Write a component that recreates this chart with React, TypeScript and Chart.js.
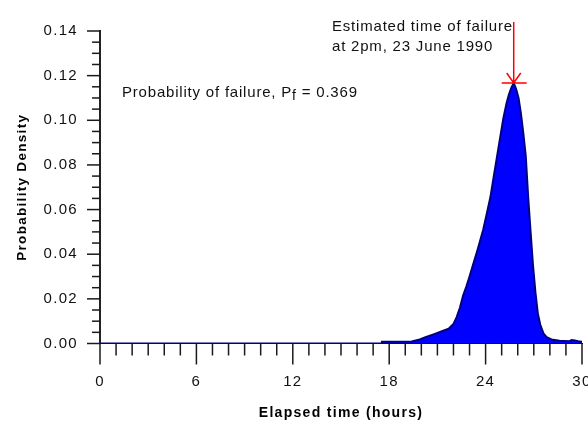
import React, { useEffect, useRef } from 'react';
import { Chart, registerables } from 'chart.js';

Chart.register(...registerables);

// ---- data ----
const hours = [
  0, 17.5, 17.55, 19.4, 19.9, 20.3, 20.8, 21.2, 21.7, 22.0, 22.2, 22.4, 22.6, 22.8,
  23.0, 23.25, 23.5, 23.85, 24.1, 24.3, 24.5, 24.7, 24.9, 25.1, 25.3, 25.45, 25.6,
  25.75, 25.9, 26.05, 26.2, 26.35, 26.5, 26.65, 26.8, 26.95, 27.1, 27.25, 27.4,
  27.6, 27.8, 28.1, 28.6, 29.2, 29.35, 29.55, 29.75, 29.95, 30,
];
const density = [
  0, 0, 0.0008, 0.0009, 0.0018, 0.0029, 0.0042, 0.0053, 0.0066, 0.0088, 0.0118,
  0.016, 0.0215, 0.0255, 0.03, 0.036, 0.042, 0.051, 0.059, 0.0656, 0.0745, 0.0832,
  0.092, 0.1007, 0.1075, 0.1115, 0.1145, 0.1167, 0.114, 0.11, 0.103, 0.094, 0.084,
  0.0656, 0.05, 0.035, 0.023, 0.0135, 0.0085, 0.0045, 0.0028, 0.0018, 0.0012,
  0.001, 0.0016, 0.0014, 0.001, 0.0008, 0,
];
const xMin = 0;
const xMax = 30;
const xMajorStep = 6;
const xMinorStep = 1;
const yMin = 0;
const yMax = 0.14;
const yMajorStep = 0.02;
const yMinorStep = 0.005;
const peakHour = 25.75;
const peakDensity = 0.1167;
const xTitle = 'Elapsed time (hours)';
const yTitle = 'Probability Density';
const noteLines = ['Estimated time of failure', 'at 2pm, 23 June 1990'];
const pfPrefix = 'Probability of failure, P';
const pfSub = 'f';
const pfSuffix = ' = 0.369';

const FONT = "'Liberation Sans', Arial, sans-serif";
const SPACING = '1.3px';

const decorPlugin = {
  id: 'decor',
  beforeUpdate(chart: any) {
    chart.ctx.letterSpacing = SPACING;
  },
  beforeDraw(chart: any) {
    chart.ctx.letterSpacing = SPACING;
  },
  afterDraw(chart: any) {
    const ctx = chart.ctx;
    const xs = chart.scales.x;
    const ys = chart.scales.y;
    const area = chart.chartArea;
    ctx.save();
    // x tick marks
    ctx.strokeStyle = '#1a1a1a';
    ctx.lineWidth = 1.5;
    for (let h = xMin; h <= xMax + 1e-9; h += xMinorStep) {
      const px = xs.getPixelForValue(h);
      const major = Math.abs(h / xMajorStep - Math.round(h / xMajorStep)) < 1e-6;
      ctx.beginPath();
      ctx.moveTo(px, area.bottom);
      ctx.lineTo(px, area.bottom + (major ? 21 : 12));
      ctx.stroke();
    }
    // y tick marks
    for (let i = 0; i <= Math.round((yMax - yMin) / yMinorStep); i++) {
      const v = yMin + i * yMinorStep;
      const py = ys.getPixelForValue(v);
      const major = i % Math.round(yMajorStep / yMinorStep) === 0;
      ctx.beginPath();
      ctx.moveTo(area.left, py);
      ctx.lineTo(area.left - (major ? 13 : 8), py);
      ctx.stroke();
    }
    // annotation: probability of failure
    ctx.fillStyle = '#111';
    ctx.letterSpacing = '0.8px';
    ctx.textBaseline = 'middle';
    ctx.textAlign = 'left';
    ctx.font = `15px ${FONT}`;
    let tx = 122;
    const ty = 93;
    ctx.fillText(pfPrefix, tx, ty);
    tx += ctx.measureText(pfPrefix).width;
    ctx.font = `14px ${FONT}`;
    ctx.fillText(pfSub, tx, ty + 3);
    tx += ctx.measureText(pfSub).width;
    ctx.font = `15px ${FONT}`;
    ctx.fillText(pfSuffix, tx, ty);
    // annotation: estimated time of failure
    ctx.fillText(noteLines[0], 332, 27);
    ctx.fillText(noteLines[1], 332, 47);
    // red arrow to the peak
    const px = xs.getPixelForValue(peakHour);
    const py = ys.getPixelForValue(peakDensity);
    ctx.strokeStyle = '#ff0000';
    ctx.lineWidth = 1.5;
    ctx.beginPath();
    ctx.moveTo(px, 22);
    ctx.lineTo(px, py);
    ctx.moveTo(px - 7, py - 10);
    ctx.lineTo(px, py);
    ctx.lineTo(px + 7, py - 10);
    ctx.moveTo(px - 12, py);
    ctx.lineTo(px + 13, py);
    ctx.stroke();
    ctx.restore();
  },
};

export default function App() {
  const ref = useRef<HTMLCanvasElement | null>(null);
  useEffect(() => {
    if (!ref.current) return;
    const chart = new Chart(ref.current, {
      type: 'line',
      data: {
        datasets: [
          {
            data: hours.map((h, i) => ({ x: h, y: density[i] })),
            borderColor: '#000080',
            backgroundColor: '#0000ff',
            borderWidth: 2,
            fill: 'origin',
            pointRadius: 0,
            tension: 0,
          },
        ],
      },
      options: {
        responsive: false,
        animation: false,
        layout: { padding: { top: 24, right: 6, left: 0, bottom: 0 } },
        plugins: { legend: { display: false }, tooltip: { enabled: false } },
        scales: {
          x: {
            type: 'linear',
            min: xMin,
            max: xMax,
            ticks: {
              stepSize: xMajorStep,
              padding: 29,
              color: '#111',
              font: { family: FONT, size: 15 },
              maxRotation: 0,
            },
            grid: { display: false, drawTicks: false },
            border: { display: true, color: '#000080', width: 1 },
            title: {
              display: true,
              text: xTitle,
              color: '#000',
              font: { family: FONT, size: 14, weight: 'bold' },
              padding: { top: 0, bottom: 2 },
            },
            afterFit: (s: any) => {
              s.height = 80.5;
              s.paddingLeft = 0;
              s.paddingRight = 0;
            },
          },
          y: {
            min: yMin,
            max: yMax,
            ticks: {
              stepSize: yMajorStep,
              padding: 22,
              color: '#111',
              font: { family: FONT, size: 15 },
              callback: (v: any) => Number(v).toFixed(2),
            },
            grid: { display: false, drawTicks: false },
            border: { display: true, color: '#222', width: 2 },
            title: {
              display: true,
              text: yTitle,
              color: '#000',
              font: { family: FONT, size: 13.5, weight: 'bold' },
              padding: { top: 14, bottom: 0 },
            },
            afterFit: (s: any) => {
              s.width = 100;
            },
          },
        },
      },
      plugins: [decorPlugin],
    } as any);
    return () => chart.destroy();
  }, []);
  return (
    <div style={{ position: 'fixed', left: 0, top: 0, width: 588, height: 424, background: '#fff' }}>
      <canvas ref={ref} width={588} height={424} style={{ display: 'block' }} />
    </div>
  );
}
